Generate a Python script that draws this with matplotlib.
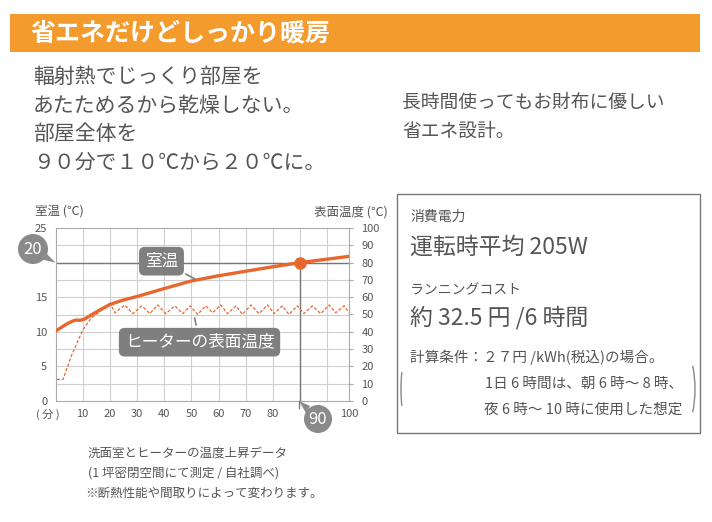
import matplotlib
matplotlib.use("Agg")
import matplotlib.pyplot as plt
from matplotlib.patches import Rectangle, Circle, Polygon, Arc
from matplotlib.transforms import ScaledTranslation

plt.rcParams['font.family'] = ['Noto Sans CJK JP', 'DejaVu Sans']

# 室温 (左軸, ℃)
room_min = [0, 2, 4, 6, 7.5, 9, 10.5, 13, 16.5, 20, 25, 30, 40, 50, 60, 70, 80, 90, 100, 108]
room_temp = [10.1, 10.6, 11.1, 11.5, 11.7, 11.65, 11.8, 12.4, 13.2, 13.95, 14.6, 15.1,
             16.25, 17.35, 18.1, 18.75, 19.4, 20.0, 20.5, 20.9]

# ヒーターの表面温度 (右軸, ℃)
surf_min = [0.5, 2.8, 5.7, 10, 13, 16.7, 20.4, 21.9, 25.5, 28.4, 31.8, 34.7, 37.6, 40.6,
            43.9, 46.8, 49.6, 52.3, 55.3, 57.8, 60.8, 63.3, 66.4, 68.8, 71.9, 74.9, 78,
            80.4, 83.5, 85.9, 89, 91.4, 94.5, 97.6, 100.7, 103.1, 106.2, 108]
surf_temp = [12.5, 12.5, 25.6, 41, 47.8, 52.2, 55.5, 51, 55.5, 50.5, 55, 50.5, 55.5, 50.5,
             55, 50.5, 55, 50, 55, 51, 55.5, 50.5, 55, 50, 55.5, 50.5, 55.5,
             50.5, 55, 50, 55, 50.5, 55, 50.5, 55.5, 51, 55, 51]

x_ticks = [10, 20, 30, 40, 50, 60, 70, 80, 100]
left_ticks = [0, 5, 10, 15, 25]
right_ticks = list(range(0, 101, 10))

orange = '#e8672f'
txt = '#555555'
badge = '#8a8a8a'

fig = plt.figure(figsize=(7.12, 5.22), dpi=100)
W, H = 712, 522

ax = fig.add_axes([55.5 / W, 121 / H, 293.5 / W, 173 / H])
ax.set_xlim(0, 108)
ax.set_ylim(0, 25)
for v in [2.5 * i for i in range(1, 10)]:
    ax.axhline(v, color='#cfcfcf', lw=0.8, zorder=0)
for v in range(10, 101, 10):
    ax.axvline(v, color='#cfcfcf', lw=0.8, zorder=0)
ax.axhline(20, color='#777777', lw=1, zorder=1)
ax.axvline(90, ymax=20 / 25, color='#777777', lw=1, zorder=1)
for s in ax.spines.values():
    s.set_color('#aaaaaa')
    s.set_linewidth(0.8)
ax.set_xticks(x_ticks)
ax.set_yticks(left_ticks)
ax.tick_params(length=0, labelsize=8, labelcolor=txt, pad=6)
# 100 のラベルは右端へ寄せる (元図と同じ)
lab100 = ax.get_xticklabels()[-1]
lab100.set_transform(lab100.get_transform() + ScaledTranslation(0.22, 0, fig.dpi_scale_trans))
ax.plot(room_min, room_temp, color=orange, lw=2.4, zorder=3)
ax.plot([90], [20], 'o', color=orange, ms=8, zorder=4)

ax2 = ax.twinx()
ax2.set_ylim(0, 100)
ax2.set_yticks(right_ticks)
ax2.tick_params(length=3, color='#aaaaaa', labelsize=8, labelcolor=txt, pad=6)
for s in ax2.spines.values():
    s.set_visible(False)
ax2.plot(surf_min, surf_temp, color=orange, lw=0.9, dashes=(2.5, 1.5), zorder=2)

box = dict(boxstyle='round,pad=0.35,rounding_size=0.35', fc='#7f7f7f', ec='none')
ax2.annotate('室温', xy=(52, 17.5), xycoords=ax.transData, xytext=(39, 20.2),
             textcoords=ax.transData, ha='center', va='center', fontsize=12, color='white',
             bbox=box, arrowprops=dict(arrowstyle='-', color='#7f7f7f', lw=1.2), zorder=6)
ax2.annotate('ヒーターの表面温度', xy=(51, 12.4), xycoords=ax.transData, xytext=(53, 8.5),
             textcoords=ax.transData, ha='center', va='center', fontsize=12, color='white',
             bbox=box, arrowprops=dict(arrowstyle='-', color='#7f7f7f', lw=1.2), zorder=6)

# 全体のレイアウト用 (ピクセル座標)
ov = fig.add_axes([0, 0, 1, 1], zorder=5)
ov.set_xlim(0, W)
ov.set_ylim(H, 0)
ov.axis('off')

ov.add_patch(Rectangle((10, 14), 690, 38, color='#f39b2c', lw=0))
ov.text(30, 33, '省エネだけどしっかり暖房', fontsize=18, color='white', va='center', weight='bold')

lines_l = ['輻射熱でじっくり部屋を', 'あたためるから乾燥しない。', '部屋全体を', '９０分で１０℃から２０℃に。']
for i, s in enumerate(lines_l):
    ov.text(33, 77 + 28.5 * i, s, fontsize=15, color=txt, va='center')
ov.text(402, 102, '長時間使ってもお財布に優しい', fontsize=13.5, color=txt, va='center')
ov.text(402, 131, '省エネ設計。', fontsize=13.5, color=txt, va='center')

ov.text(35, 211, '室温 (℃)', fontsize=9, color=txt, va='center')
ov.text(388, 212, '表面温度 (℃)', fontsize=9, color=txt, va='center', ha='right')
ov.text(36, 414, '( 分 )', fontsize=8, color=txt, va='center')

# 20 / 90 のバッジ
ov.add_patch(Circle((33, 249), 15, color=badge, lw=0))
ov.add_patch(Polygon([(40, 259), (46, 253), (55.5, 262.6)], color=badge, lw=0))
ov.text(33, 249, '20', fontsize=12, color='white', ha='center', va='center')
ov.plot([299, 299], [401, 408], color='#777777', lw=1)
ov.add_patch(Circle((318, 419), 14, color=badge, lw=0))
ov.add_patch(Polygon([(299, 401), (310, 406), (306, 413)], color=badge, lw=0))
ov.text(318, 419, '90', fontsize=12, color='white', ha='center', va='center')

# 右の枠
ov.add_patch(Rectangle((397, 194), 303, 239, fill=False, ec='#777777', lw=1))
ov.text(410, 217, '消費電力', fontsize=10, color=txt, va='center')
ov.text(410, 247, '運転時平均 205W', fontsize=16.5, color=txt, va='center')
ov.text(410, 290, 'ランニングコスト', fontsize=10, color=txt, va='center')
ov.text(410, 318, '約 32.5 円 /6 時間', fontsize=16.5, color=txt, va='center')
ov.add_patch(Arc((422, 389), 42, 120, theta1=140, theta2=220, color='#888888', lw=1))
ov.add_patch(Arc((665, 389), 60, 120, theta1=-40, theta2=40, color='#888888', lw=1))
ov.text(410, 357, '計算条件：２７円 /kWh(税込)の場合。', fontsize=10.5, color=txt, va='center')
ov.text(485, 384, '1日 6 時間は、朝 6 時～ 8 時、', fontsize=10.5, color=txt, va='center')
ov.text(484, 410, '夜 6 時～ 10 時に使用した想定', fontsize=10.5, color=txt, va='center')

ov.text(88, 453, '洗面室とヒーターの温度上昇データ', fontsize=9, color=txt, va='center')
ov.text(88, 474, '(1 坪密閉空間にて測定 / 自社調べ)', fontsize=9, color=txt, va='center')
ov.text(85, 493, '※断熱性能や間取りによって変わります。', fontsize=9, color=txt, va='center')

plt.savefig('out.png', dpi=100)
